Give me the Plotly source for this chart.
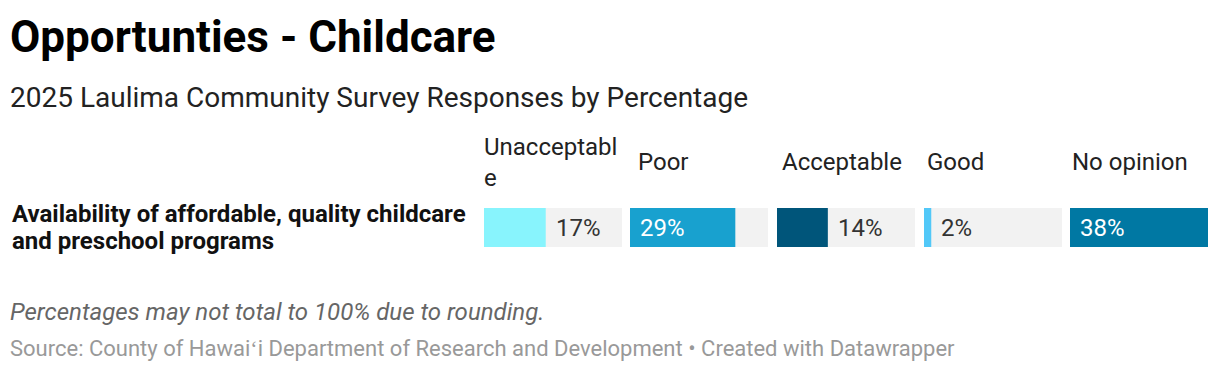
import plotly.graph_objects as go

title = "Opportunties - Childcare"
subtitle = "2025 Laulima Community Survey Responses by Percentage"
row_label_lines = ["Availability of affordable, quality childcare", "and preschool programs"]
categories = ["Unacceptabl<br>e", "Poor", "Acceptable", "Good", "No opinion"]
values = [17, 29, 14, 2, 38]
colors = ["#88f4fd", "#18a1cf", "#00557a", "#52c8f8", "#0078a3"]
label_inside = [False, True, False, False, True]
note = "Percentages may not total to 100% due to rounding."
source = "Source: County of Hawai\u02bbi Department of Research and Development \u2022 Created with Datawrapper"

W, H = 1220, 372
OFF = 8  # page body margin
FONT = "Roboto"

def px_x(x):
    return (x - OFF) / W

def px_y(y):
    return 1 - (y - OFF) / H

col_left = [484, 630, 777, 924, 1070]
header_shift = [-2, 6, 3, 1, 0]
col_w = 138
bar_top, bar_bot = 208, 247
vmax = max(values)

fig = go.Figure()
annotations = []
for i, (cat, v, c, inside) in enumerate(zip(categories, values, colors, label_inside)):
    n = "" if i == 0 else str(i + 1)
    fig.add_trace(go.Bar(
        x=[v], y=[0], orientation="h", marker=dict(color=c, line=dict(width=0)),
        width=1, xaxis="x" + n, yaxis="y" + n, showlegend=False, hoverinfo="skip",
    ))
    fig.update_layout(**{
        "xaxis" + n: dict(domain=[px_x(col_left[i]), px_x(col_left[i] + col_w)],
                          range=[0, vmax], visible=False, fixedrange=True,
                          anchor="y" + n),
        "yaxis" + n: dict(domain=[px_y(bar_bot), px_y(bar_top)], range=[-0.5, 0.5],
                          visible=False, fixedrange=True, anchor="x" + n),
    })
    annotations.append(dict(
        x=0 if inside else v, y=0, xref="x" + n, yref="y" + n,
        text=f"{v}%", showarrow=False, xanchor="left", yanchor="middle",
        xshift=8, font=dict(family=FONT, size=24, color="#ffffff" if inside else "#333333"),
    ))
    annotations.append(dict(
        x=px_x(col_left[i]), y=px_y(162), xref="paper", yref="paper",
        text=cat, showarrow=False, xanchor="left", yanchor="middle", align="left",
        xshift=header_shift[i], font=dict(family=FONT, size=24, color="#222222"),
    ))

annotations += [
    dict(x=px_x(8), y=px_y(37), xref="paper", yref="paper", text=f"<b>{title}</b>",
         showarrow=False, xanchor="left", yanchor="middle",
         font=dict(family=FONT, size=44, color="#000000")),
    dict(x=px_x(8), y=px_y(97), xref="paper", yref="paper", text=subtitle,
         showarrow=False, xanchor="left", yanchor="middle",
         font=dict(family=FONT, size=28, color="#222222")),
    dict(x=px_x(10), y=px_y(214), xref="paper", yref="paper", text=f"<b>{row_label_lines[0]}</b>",
         showarrow=False, xanchor="left", yanchor="middle", align="left",
         font=dict(family=FONT, size=24, color="#111111")),
    dict(x=px_x(10), y=px_y(241), xref="paper", yref="paper", text=f"<b>{row_label_lines[1]}</b>",
         showarrow=False, xanchor="left", yanchor="middle", align="left",
         font=dict(family=FONT, size=24, color="#111111")),
    dict(x=px_x(8), y=px_y(312), xref="paper", yref="paper", text=f"<i>{note}</i>",
         showarrow=False, xanchor="left", yanchor="middle",
         font=dict(family=FONT, size=24, color="#666666")),
    dict(x=px_x(8), y=px_y(348), xref="paper", yref="paper", text=source,
         showarrow=False, xanchor="left", yanchor="middle",
         font=dict(family=FONT, size=22, color="#999999")),
]

fig.update_layout(
    width=W, height=H, margin=dict(l=0, r=0, t=0, b=0),
    paper_bgcolor="#ffffff", plot_bgcolor="#f2f2f2",
    barmode="overlay", annotations=annotations,
)
fig.write_html("out.html")
